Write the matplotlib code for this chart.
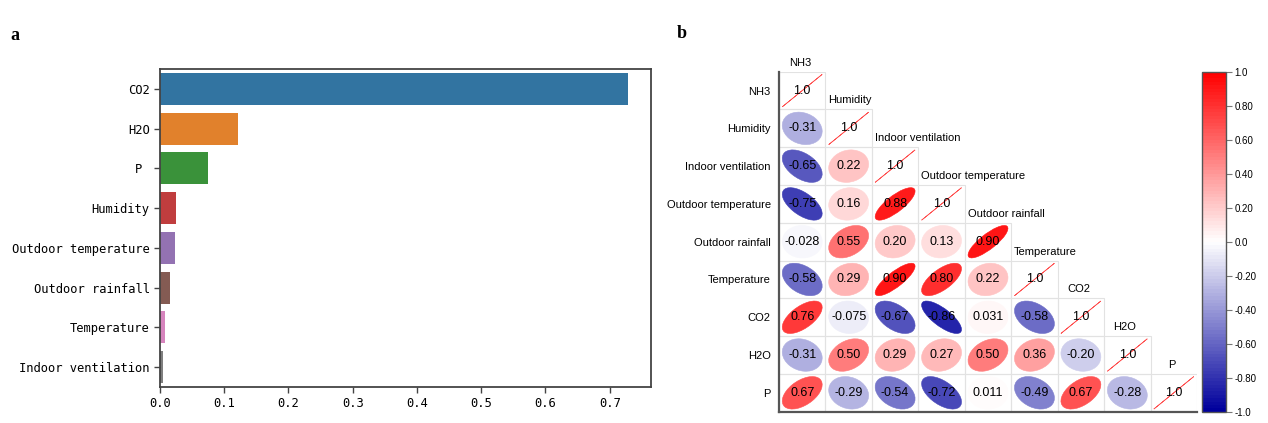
import numpy as np
import matplotlib
matplotlib.use("Agg")
import matplotlib.pyplot as plt
from matplotlib.patches import Ellipse, Rectangle
from matplotlib.colors import LinearSegmentedColormap, Normalize
from matplotlib.cm import ScalarMappable
from matplotlib.ticker import FuncFormatter

# ---- panel a: feature importance ----
feat_names = ["CO2", "H2O", "P ", "Humidity", "Outdoor temperature",
              "Outdoor rainfall", "Temperature", "Indoor ventilation"]
feat_values = [0.728, 0.122, 0.075, 0.0245, 0.024, 0.016, 0.0083, 0.005]
feat_colors = ["#3274a1", "#e1812c", "#3a923a", "#c03d3e",
               "#9372b2", "#845b53", "#d684bd", "#7f7f7f"]

# ---- panel b: correlation matrix (lower triangle incl. diagonal) ----
corr_names = ["NH3", "Humidity", "Indoor ventilation", "Outdoor temperature",
              "Outdoor rainfall", "Temperature", "CO2", "H2O", "P"]
corr_rows = [
    [1.0],
    [-0.31, 1.0],
    [-0.65, 0.22, 1.0],
    [-0.75, 0.16, 0.88, 1.0],
    [-0.028, 0.55, 0.20, 0.13, 0.90],
    [-0.58, 0.29, 0.90, 0.80, 0.22, 1.0],
    [0.76, -0.075, -0.67, -0.86, 0.031, -0.58, 1.0],
    [-0.31, 0.50, 0.29, 0.27, 0.50, 0.36, -0.20, 1.0],
    [0.67, -0.29, -0.54, -0.72, 0.011, -0.49, 0.67, -0.28, 1.0],
]

W, H = 1268, 423
fig = plt.figure(figsize=(W / 100, H / 100), dpi=100)

def px_axes(x0, y0, x1, y1):
    return fig.add_axes([x0 / W, 1 - y1 / H, (x1 - x0) / W, (y1 - y0) / H])

mono = "DejaVu Sans Mono"
sans = "Liberation Sans"

# panel a
ax1 = px_axes(160, 69, 651, 387)
ypos = np.arange(len(feat_names))
ax1.barh(ypos, feat_values, height=0.8, color=feat_colors)
ax1.set_ylim(len(feat_names) - 0.5, -0.5)
ax1.set_xlim(0, max(feat_values) * 1.05)
ax1.set_yticks(ypos)
ax1.set_yticklabels(feat_names, fontfamily=mono, fontsize=8.7)
ax1.set_xticks(np.arange(0, 0.71, 0.1))
ax1.set_xticklabels(["%.1f" % t for t in np.arange(0, 0.71, 0.1)],
                    fontfamily=mono, fontsize=8.7)
for sp in ax1.spines.values():
    sp.set_color("#444444")
    sp.set_linewidth(1.3)
ax1.tick_params(length=4, width=1, color="#444444")

# panel b
cmap = LinearSegmentedColormap.from_list("bwr_dark", ["#00009c", "#ffffff", "#ff0000"], N=100)
norm = Normalize(-1, 1)
fmt = lambda v: "{:#.2g}".format(v)

n = len(corr_names)
ax2 = px_axes(779, 71.7, 1197, 411.7)
ax2.set_xlim(0, n)
ax2.set_ylim(n, 0)
s = 0.43  # half size of the ellipse bounding box, in cells
for i, row in enumerate(corr_rows):
    for j, r in enumerate(row):
        ax2.add_patch(Rectangle((j, i), 1, 1, fill=False, edgecolor="#e2e2e2", lw=0.8, zorder=1))
        col = cmap(norm(r))
        k = np.sqrt(max(1 - abs(r), 0))
        a = s * np.sqrt(2 / (1 + k * k))
        ang = -45 if r > 0 else 45
        if k == 0:
            # perfect correlation -> thin line
            e = Ellipse((j + 0.5, i + 0.5), width=2 * a, height=0, angle=ang,
                        fill=False, edgecolor="#ff5050", lw=0.5, zorder=2)
        else:
            e = Ellipse((j + 0.5, i + 0.5), width=2 * a, height=2 * a * k, angle=ang,
                        facecolor=col, edgecolor=col, lw=0.4, zorder=2)
        ax2.add_patch(e)
        ax2.text(j + 0.5, i + 0.5, fmt(r), ha="center", va="center",
                 fontsize=9, fontfamily=sans, zorder=3)
    # column label above the diagonal cell
    lab = corr_names[i]
    if len(lab) <= 3:
        ax2.text(i + 0.45, i - 0.24, lab, ha="center", va="center",
                 fontsize=8, fontfamily=sans, clip_on=False)
    else:
        ax2.text(i + 0.06, i - 0.24, lab, ha="left", va="center",
                 fontsize=8, fontfamily=sans, clip_on=False)

ax2.set_yticks(np.arange(n) + 0.5)
ax2.set_yticklabels(corr_names, fontsize=8, fontfamily=sans)
ax2.set_xticks([])
ax2.tick_params(axis="y", length=0, pad=6)
ax2.spines["top"].set_visible(False)
ax2.spines["right"].set_visible(False)
for sp in ["left", "bottom"]:
    ax2.spines[sp].set_color("#555555")
    ax2.spines[sp].set_linewidth(1.6)

cax = px_axes(1202, 71.7, 1226, 411.7)
cb = fig.colorbar(ScalarMappable(norm=norm, cmap=cmap), cax=cax,
                  ticks=np.linspace(-1, 1, 11))
cb.ax.yaxis.set_major_formatter(FuncFormatter(lambda v, p: fmt(v)))
cb.ax.tick_params(labelsize=7, length=4, width=0.8, color="#777777", pad=2)
for t in cb.ax.get_yticklabels():
    t.set_fontfamily(sans)
cb.outline.set_edgecolor("#555555")
cb.outline.set_linewidth(1.0)

fig.text(10 / W, 1 - 35 / H, "a", fontsize=13, fontweight="bold",
         fontfamily="Liberation Serif", va="center")
fig.text(677 / W, 1 - 34 / H, "b", fontsize=13, fontweight="bold",
         fontfamily="Liberation Serif", va="center")

fig.savefig("out.png", dpi=100)
